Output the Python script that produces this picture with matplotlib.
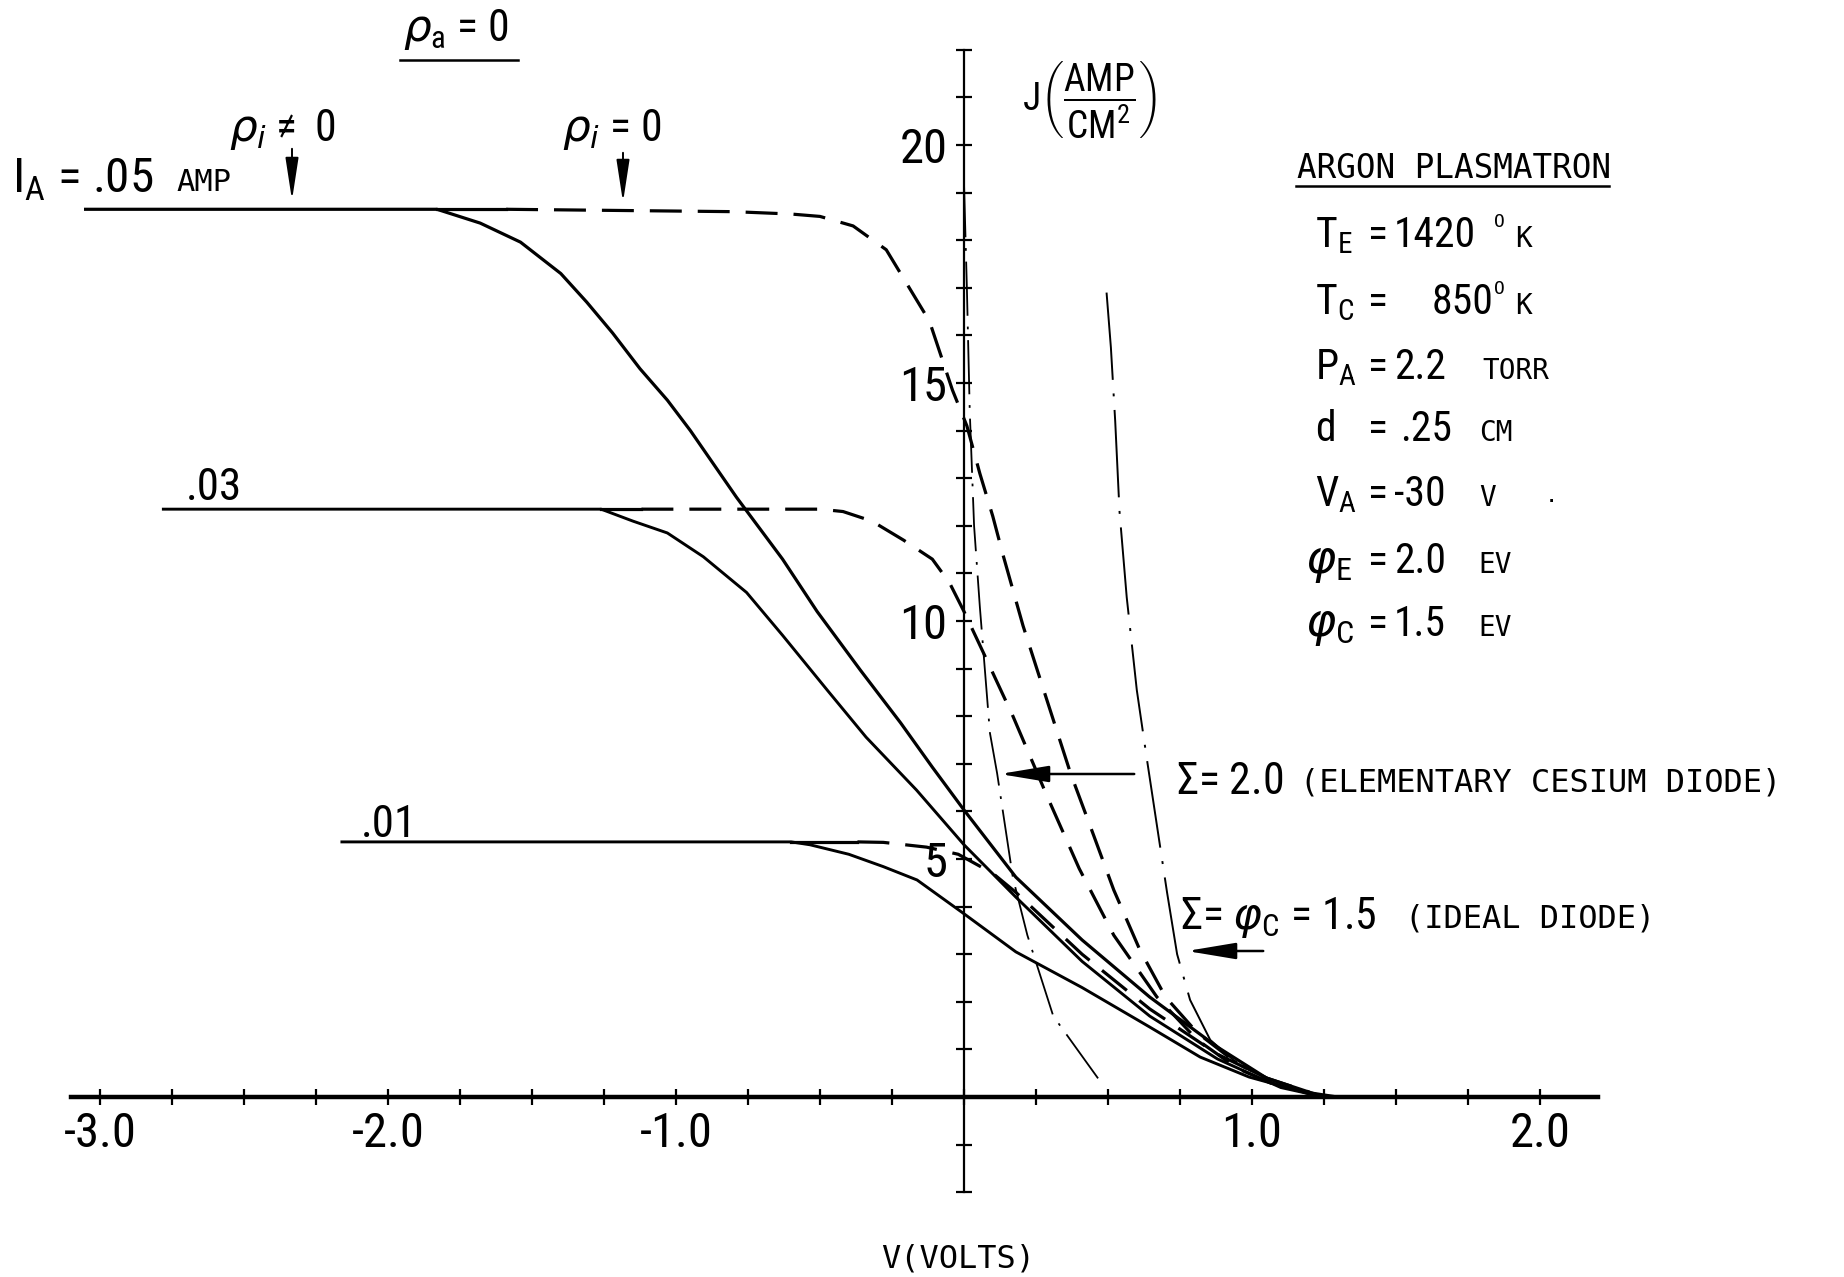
import numpy as np
import matplotlib
matplotlib.use('Agg')
import matplotlib.pyplot as plt
from matplotlib import font_manager as fm

W, H = 1844, 1277

# I_A = .05 amp, rho_i != 0 (solid) and rho_i = 0 (dashed)
v05_s = [-3.05, -1.83, -1.68, -1.54, -1.40, -1.31, -1.22, -1.125, -1.03, -0.95, -0.87, -0.79,
         -0.63, -0.51, -0.36, -0.22, -0.11, 0.0, 0.18, 0.41, 0.645, 0.88, 1.05, 1.25]
j05_s = [18.65, 18.65, 18.36, 17.96, 17.3, 16.7, 16.05, 15.3, 14.64, 14.0, 13.3, 12.6,
         11.3, 10.2, 8.97, 7.86, 6.93, 6.03, 4.62, 3.3, 2.1, 1.05, 0.4, 0.0]
v05_d = [-1.59, -0.8, -0.6, -0.5, -0.385, -0.27, -0.19, -0.12, -0.04, 0.01, 0.055, 0.10, 0.135,
         0.17, 0.205, 0.29, 0.37, 0.45, 0.52, 0.61, 0.70, 0.81, 0.95, 1.1]
j05_d = [18.65, 18.6, 18.55, 18.5, 18.3, 17.8, 17.0, 16.3, 14.85, 14.1, 13.1, 12.2, 11.4,
         10.65, 9.9, 8.3, 6.8, 5.5, 4.35, 3.1, 2.1, 1.35, 0.7, 0.25]

# I_A = .03 amp
v03_s = [-2.78, -1.26, -1.15, -1.03, -0.905, -0.755, -0.63, -0.475, -0.34, -0.165, 0.0,
         0.18, 0.41, 0.645, 0.88, 1.1, 1.25]
j03_s = [12.35, 12.35, 12.1, 11.85, 11.35, 10.6, 9.7, 8.55, 7.56, 6.45, 5.3,
         4.2, 2.85, 1.7, 0.8, 0.2, 0.0]
v03_d = [-1.12, -0.5, -0.42, -0.32, -0.21, -0.11, -0.05, 0.0, 0.07, 0.17, 0.29, 0.40,
         0.52, 0.67, 0.81, 0.95, 1.1]
j03_d = [12.35, 12.35, 12.3, 12.1, 11.7, 11.3, 10.8, 10.2, 9.3, 8.0, 6.3, 4.8,
         3.4, 2.1, 1.2, 0.6, 0.2]

# I_A = .01 amp
v01_s = [-2.16, -0.6, -0.535, -0.40, -0.28, -0.163, 0.0, 0.18, 0.41, 0.645, 0.82, 0.99, 1.17, 1.3]
j01_s = [5.36, 5.36, 5.3, 5.1, 4.84, 4.56, 3.85, 3.05, 2.3, 1.47, 0.84, 0.42, 0.12, 0.0]
v01_d = [-0.37, -0.28, -0.13, -0.02, 0.1, 0.18, 0.41, 0.645, 0.88, 1.05, 1.2]
j01_d = [5.36, 5.35, 5.25, 5.1, 4.7, 4.3, 3.0, 1.85, 0.9, 0.4, 0.1]

# elementary cesium diode (sigma = 2.0) and ideal diode (sigma = phi_c = 1.5)
v_cs = [0.0, 0.01, 0.02, 0.035, 0.055, 0.09, 0.115, 0.17, 0.22, 0.31, 0.48]
j_cs = [19.2, 17.0, 14.4, 12.0, 10.3, 7.65, 6.8, 4.6, 3.4, 1.7, 0.27]
v_id = [0.495, 0.51, 0.525, 0.54, 0.565, 0.60, 0.635, 0.67, 0.705, 0.74, 0.785, 0.855, 0.935, 1.05, 1.2]
j_id = [16.9, 15.75, 14.2, 12.3, 10.5, 8.55, 7.1, 5.7, 4.3, 3.0, 2.04, 1.2, 0.78, 0.35, 0.05]

x_ticks = np.arange(-3.0, 2.01, 0.25)
x_lab = {-3.0: '-3.0', -2.0: '-2.0', -1.0: '-1.0', 1.0: '1.0', 2.0: '2.0'}
y_ticks = np.arange(-2, 23, 1)
y_lab = {5: '5', 10: '10', 15: '15', 20: '20'}

# look for a narrow face, the plotter lettering is tall and thin
names = {f.name for f in fm.fontManager.ttflist}
narrow, stretch, sc = None, 'normal', 1.0
for cand in ['Liberation Sans Narrow', 'Roboto Condensed', 'Open Sans Condensed', 'Noto Sans Condensed']:
    if cand in names:
        narrow = cand
        break
if narrow is None:
    for f in fm.fontManager.ttflist:
        if 'condensed' in str(f.stretch) and f.style == 'normal' and f.name in ('DejaVu Sans', 'Noto Sans', 'Open Sans', 'Roboto'):
            narrow, stretch = f.name, 'condensed'
            sc = 0.88
            break
if narrow is None:
    narrow, sc = 'DejaVu Sans', 0.76

plt.rcParams['font.family'] = [narrow, 'DejaVu Sans']
plt.rcParams['font.stretch'] = stretch
plt.rcParams['mathtext.fontset'] = 'custom'
plt.rcParams['mathtext.rm'] = narrow
plt.rcParams['mathtext.sf'] = narrow
plt.rcParams['mathtext.it'] = 'DejaVu Sans:italic'

fig = plt.figure(figsize=(W / 100, H / 100), dpi=100)
ax = fig.add_axes([71.2 / W, 80 / H, 1526.4 / W, 1156.7 / H])
ax.set_xlim(-3.1, 2.2)
ax.set_ylim(-2.1, 22.2)
ax.patch.set_visible(False)

for s in ['top', 'right']:
    ax.spines[s].set_visible(False)
ax.spines['left'].set_position(('data', 0))
ax.spines['bottom'].set_position(('data', 0))
ax.spines['left'].set_bounds(-2, 22)
ax.spines['bottom'].set_bounds(-3.1, 2.2)
ax.spines['bottom'].set_linewidth(3.2)
ax.spines['left'].set_linewidth(1.6)

ax.set_xticks(x_ticks)
ax.set_xticklabels([x_lab.get(round(t, 2), '') for t in x_ticks])
ax.set_yticks(y_ticks)
ax.set_yticklabels([y_lab.get(int(t), '') for t in y_ticks])
ax.tick_params(axis='x', direction='inout', length=12, width=1.6, labelsize=35 * sc, pad=4)
ax.tick_params(axis='y', direction='inout', length=12, width=1.6, labelsize=35 * sc, pad=6)

k = 'black'
ax.plot(v05_s, j05_s, color=k, lw=2.3)
ax.plot(v03_s, j03_s, color=k, lw=2.1)
ax.plot(v01_s, j01_s, color=k, lw=2.1)
for vs, js, vd, jd in [(v05_s, j05_s, v05_d, j05_d), (v03_s, j03_s, v03_d, j03_d),
                       (v01_s, j01_s, v01_d, j01_d)]:
    # the flat part runs on solid a little past the split before the dashes start
    ax.plot([vs[1], vd[0]], [js[1], jd[0]], color=k, lw=2.3)
    ln, = ax.plot(vd, jd, color=k, lw=2.3)
    ln.set_dashes([10, 5])
ln, = ax.plot(v_cs, j_cs, color=k, lw=1.3)
ln.set_dashes([30, 6, 1.5, 6])
ln, = ax.plot(v_id, j_id, color=k, lw=1.4)
ln.set_dashes([45, 7, 1.5, 7])


def ft(x, y, s, size, **kw):
    # place text by pixel position on the page
    fig.text(x / W, 1 - y / H, s, va='baseline', ha=kw.pop('ha', 'left'), fontsize=size, **kw)


def fline(x0, x1, y, lw=1.6):
    fig.add_artist(plt.Line2D([x0 / W, x1 / W], [1 - y / H, 1 - y / H], color=k, lw=lw))


def farrow(x0, y0, x1, y1, lw=1.6, hw=6, hl=24):
    ax.annotate('', xy=(x1 / W, 1 - y1 / H), xytext=(x0 / W, 1 - y0 / H),
                xycoords='figure fraction', textcoords='figure fraction',
                arrowprops=dict(arrowstyle='-|>,head_width=%g,head_length=%g' % (hw / 30, hl / 30),
                                color=k, lw=lw, mutation_scale=30))

mono = 'DejaVu Sans Mono'
B = 30 * sc   # big lettering
S = 23        # small caps, typewriter face

ft(403, 41, r'$\rho_{\mathrm{a}}$ = 0', B * 1.05)
fline(400, 518, 60, lw=1.8)

ft(229, 141, r'$\rho_{i}\neq$ 0', B * 1.05)
farrow(292, 146, 292, 203, lw=1.4, hw=4, hl=26)
ft(562, 141, r'$\rho_{i}$ = 0', B * 1.05)
farrow(623, 150, 623, 205, lw=1.4, hw=4, hl=26)

ft(12, 193, r'I$_{\mathrm{A}}$ = .05', B * 1.18)
ft(176, 191, 'AMP', 22, family=mono)
ft(186, 500, '.03', B * 1.08)
ft(361, 837, '.01', B * 1.08)

ft(1022, 110, r'J$\left(\dfrac{\mathrm{AMP}}{\mathrm{CM}^{2}}\right)$', 27)

ft(1297, 178, 'ARGON PLASMATRON', 23.5, family=mono)
fline(1296, 1609, 186, lw=1.8)

rows = [
    (247, r'T$_{\mathrm{E}}$', '1420', 1394, 'K', 1515),
    (314, r'T$_{\mathrm{C}}$', '850', 1432, 'K', 1515),
    (379, r'P$_{\mathrm{A}}$', '2.2', 1394, 'TORR', 1482),
    (441, 'd', '.25', 1400, 'CM', 1479),
    (506, r'V$_{\mathrm{A}}$', '-30', 1394, 'V', 1479),
    (573, r'$\varphi_{\mathrm{E}}$', '2.0', 1394, 'EV', 1478),
    (636, r'$\varphi_{\mathrm{C}}$', '1.5', 1394, 'EV', 1478),
]
for yb, nm, val, xv, unit, xu in rows:
    xn = 1305 if 'varphi' in nm else 1315
    ft(xn, yb, nm, B * (1.1 if 'varphi' in nm else 1.0))
    ft(1368, yb, '=', B)
    ft(xv, yb, val, B)
    ft(xu, yb, unit, 20, family=mono)
    if unit == 'K':
        ft(1494, yb - 20, 'O', 13, family=mono)
    if unit == 'V' and 'V' in nm:
        ft(1545, yb - 4, '.', 16, family=mono)

ft(1176, 794, r'$\Sigma$= 2.0', B * 1.05)
ft(1300, 792, '(ELEMENTARY CESIUM DIODE)', S, family=mono)
farrow(1137, 774, 997, 774, lw=1.8, hw=5, hl=30)

ft(1180, 929, r'$\Sigma$= $\varphi_{\mathrm{C}}$ = 1.5', B * 1.05)
ft(1405, 927, '(IDEAL DIODE)', S, family=mono)
farrow(1266, 951, 1184, 951, lw=1.8, hw=5, hl=30)

ft(958, 1268, 'V(VOLTS)', 23, family=mono, ha='center')

plt.savefig('out.png', dpi=100)
